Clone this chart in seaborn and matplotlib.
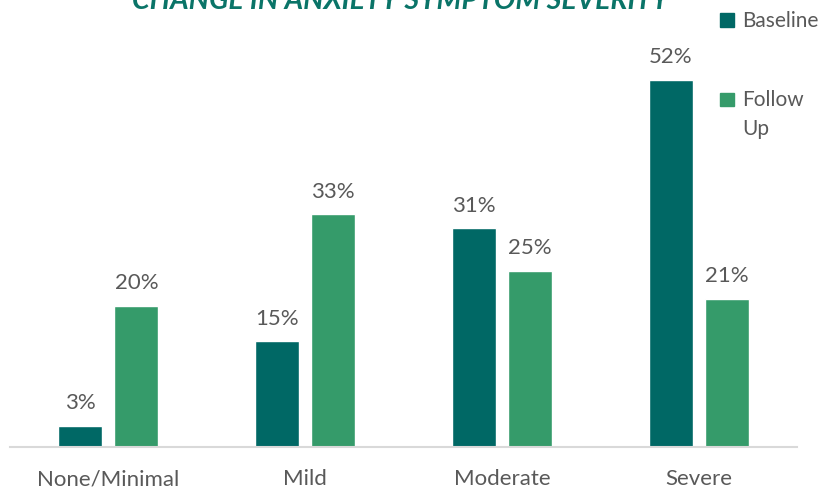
import matplotlib
matplotlib.use("Agg")
import matplotlib.pyplot as plt
import pandas as pd
import seaborn as sns

# data
categories = ["None/Minimal", "Mild", "Moderate", "Severe"]
baseline = [3, 15, 31, 52]
follow_up = [20, 33, 25, 21]
series_names = ["Baseline", "Follow Up"]
palette = ["#006865", "#359B6A"]

df = pd.DataFrame({
    "category": categories * 2,
    "value": baseline + follow_up,
    "series": [series_names[0]] * 4 + [series_names[1]] * 4,
})

sns.set_theme(style="white")
plt.rcParams["font.family"] = ["Lato", "DejaVu Sans"]
grey = "#595959"
fs = 16

fig = plt.figure(figsize=(8.21, 4.92), dpi=100)
ax = fig.add_axes([10 / 821, 45 / 492, 787 / 821, 60 * 7.06 / 492])

sns.barplot(
    data=df, x="category", y="value", hue="series",
    order=categories, hue_order=series_names, palette=palette,
    width=0.569, gap=0.214, saturation=1, ax=ax, legend=False,
)

for cont in ax.containers:
    ax.bar_label(cont, labels=[f"{v:.0f}%" for v in cont.datavalues],
                 padding=9, fontsize=fs, color=grey)

ax.set_xlim(-0.5, 3.5)
ax.set_ylim(0, 60)
ax.set_xlabel("")
ax.set_ylabel("")
ax.set_yticks([])
ax.tick_params(axis="x", length=0, pad=16, labelsize=fs, labelcolor=grey)
for s in ["top", "right", "left"]:
    ax.spines[s].set_visible(False)
ax.spines["bottom"].set_color("#D9D9D9")
ax.spines["bottom"].set_linewidth(1.5)

# legend, square aligned with first line of the wrapped label
lfs = 15
handles = [plt.Rectangle((0, 0), 1, 1, color=c) for c in palette]
leg = fig.legend(handles, ["Baseline", "Follow\nUp"], loc="upper left",
                 bbox_to_anchor=(720 / 821, 1 - 11 / 492), frameon=False,
                 fontsize=lfs, labelcolor=grey, handlelength=0.65,
                 handleheight=0.65, handletextpad=0.4, labelspacing=2.85,
                 borderaxespad=0, borderpad=0)
for t in leg.get_texts():
    t.set_linespacing(1.55)
h = leg.legend_handles[1]
h.set_y(h.get_y() + 11.5)

fig.text(400 / 821, 1 - 9 / 492, "CHANGE IN ANXIETY SYMPTOM SEVERITY",
         ha="center", va="baseline", fontsize=20.5, fontweight="bold",
         fontstyle="italic", color="#0A7468")

fig.savefig("out.png", dpi=100)
